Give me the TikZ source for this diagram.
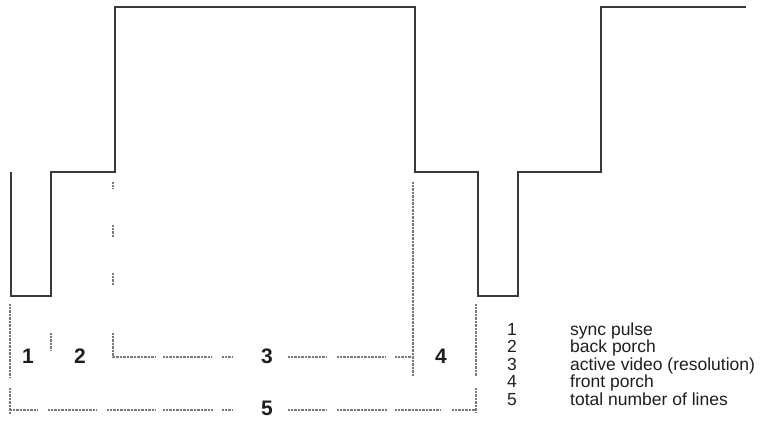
\documentclass[tikz,border=0pt]{standalone}
\usepackage{fontspec}
\setmainfont{Liberation Sans}
\definecolor{wave}{HTML}{3A3A3A}
\definecolor{dots}{HTML}{7A7A7A}
\definecolor{txt}{HTML}{1E1E1E}
\begin{document}
\begin{tikzpicture}[x=1pt,y=-1pt,
  wavestyle/.style={draw=wave,line width=1.9pt,line join=miter},
  dotline/.style={draw=dots,line width=1.2pt,dash pattern=on 0.7pt off 0.7pt},
  biglabel/.style={anchor=base,font=\fontsize{21}{21}\selectfont\bfseries,text=txt,inner sep=0pt},
  legnum/.style={anchor=base west,font=\fontsize{17.5}{17.5}\selectfont,text=txt,inner sep=0pt},
  legtext/.style={anchor=base west,font=\fontsize{17.5}{17.5}\selectfont,text=txt,inner sep=0pt}]
\useasboundingbox (0,0) rectangle (761,429);
% waveform
\draw[wavestyle] (11,172) -- (11,296) -- (51,296) -- (51,172) -- (115,172) -- (115,7)
  -- (415,7) -- (415,172) -- (478,172) -- (478,296) -- (518,296) -- (518,172)
  -- (601,172) -- (601,7) -- (746,7);
% vertical dotted markers
\draw[dotline] (10,304) -- (10,377);
\draw[dotline] (10,388) -- (10,414);
\draw[dotline] (51,333) -- (51,350);
\draw[dotline] (113,182) -- (113,188);
\draw[dotline] (113,225) -- (113,237);
\draw[dotline] (113,273) -- (113,285);
\draw[dotline] (113,333) -- (113,357) -- (155,357);
\draw[dotline] (413,182) -- (413,376);
\draw[dotline] (476,304) -- (476,376);
\draw[dotline] (476,388) -- (476,412);
% line 3
\draw[dotline] (163,357) -- (212,357);
\draw[dotline] (222,357) -- (233,357);
\draw[dotline] (288,357) -- (327,357);
\draw[dotline] (337,357) -- (385,357);
\draw[dotline] (395,357) -- (413,357);
% line 5
\draw[dotline] (10,410) -- (37,410);
\draw[dotline] (48,410) -- (97,410);
\draw[dotline] (107,410) -- (155,410);
\draw[dotline] (163,410) -- (213,410);
\draw[dotline] (222,410) -- (233,410);
\draw[dotline] (288,410) -- (327,410);
\draw[dotline] (337,410) -- (387,410);
\draw[dotline] (395,410) -- (440,410);
\draw[dotline] (452,410) -- (476,410);
% labels
\node[biglabel] (l1) at (28,363) {1};
\node[biglabel] (l2) at (80,363) {2};
\node[biglabel] (l3) at (267,363) {3};
\node[biglabel] (l4) at (441,363) {4};
\node[biglabel] (l5) at (267,415) {5};
% legend
\node[legnum] (n1) at (507,335) {1};
\node[legnum] (n2) at (507,352.5) {2};
\node[legnum] (n3) at (507,370) {3};
\node[legnum] (n4) at (507,387.5) {4};
\node[legnum] (n5) at (507,405) {5};
\node[legtext] (t1) at (570,335) {sync pulse};
\node[legtext] (t2) at (570,352.5) {back porch};
\node[legtext] (t3) at (570,370) {active video (resolution)};
\node[legtext] (t4) at (570,387.5) {front porch};
\node[legtext] (t5) at (570,405) {total number of lines};
\end{tikzpicture}
\end{document}
